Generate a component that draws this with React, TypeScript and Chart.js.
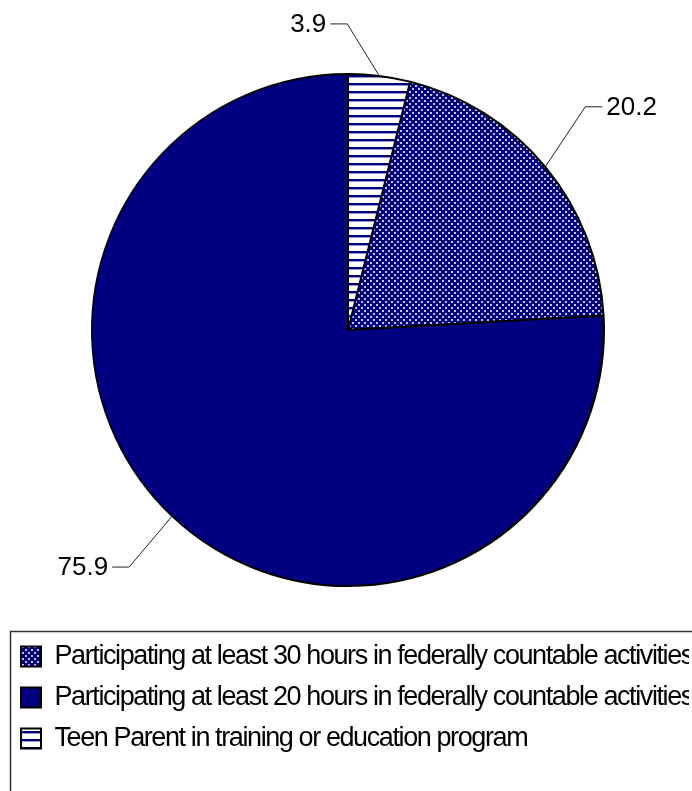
import React, { useEffect, useRef } from 'react';
import { Chart, registerables } from 'chart.js';

Chart.register(...registerables);

const categories = [
  'Participating at least 30 hours in federally countable activities',
  'Participating at least 20 hours in federally countable activities',
  'Teen Parent in training or education program',
];
const values = [20.2, 75.9, 3.9];
const valueLabels = ['20.2', '75.9', '3.9'];

const NAVY = '#000080';

// small tiles for the Excel-style fills
const makeDots = (ctx: CanvasRenderingContext2D) => {
  const c = document.createElement('canvas');
  c.width = 6;
  c.height = 6;
  const g = c.getContext('2d')!;
  g.fillStyle = NAVY;
  g.fillRect(0, 0, 6, 6);
  g.fillStyle = '#c4c4ee';
  g.fillRect(1, 1, 2, 2);
  g.fillRect(4, 4, 2, 2);
  return ctx.createPattern(c, 'repeat')!;
};

const makeStripes = (ctx: CanvasRenderingContext2D) => {
  const c = document.createElement('canvas');
  c.width = 8;
  c.height = 8;
  const g = c.getContext('2d')!;
  g.fillStyle = '#ffffff';
  g.fillRect(0, 0, 8, 8);
  g.fillStyle = NAVY;
  g.fillRect(0, 3, 8, 2);
  g.fillStyle = '#9090cc';
  g.fillRect(0, 5, 8, 1);
  return ctx.createPattern(c, 'repeat')!;
};

// leader line elbow offsets from the slice edge
const leaderOffsets = [
  [40, -60],
  [-43, 51],
  [-32, -52],
];

const leaderPlugin = {
  id: 'leaders',
  beforeDraw(chart: any) {
    // squeeze the legend text a bit, no condensed font available
    chart.ctx.letterSpacing = '-1.4px';
  },
  beforeDatasetsDraw(chart: any) {
    chart.ctx.letterSpacing = '0px';
  },
  afterDatasetsDraw(chart: any) {
    const { ctx } = chart;
    const meta = chart.getDatasetMeta(0);
    ctx.save();
    meta.data.forEach((arc: any, i: number) => {
      const { x, y, startAngle, endAngle, outerRadius } = arc.getProps(
        ['x', 'y', 'startAngle', 'endAngle', 'outerRadius'],
        true
      );
      const mid = (startAngle + endAngle) / 2;
      const ex = x + Math.cos(mid) * outerRadius;
      const ey = y + Math.sin(mid) * outerRadius;
      const [dx, dy] = leaderOffsets[i];
      const bx = ex + dx;
      const by = ey + dy;
      const dir = dx > 0 ? 1 : -1;
      const hx = bx + dir * 17;
      ctx.strokeStyle = '#222';
      ctx.lineWidth = 1;
      ctx.beginPath();
      ctx.moveTo(ex, ey);
      ctx.lineTo(bx, by);
      ctx.lineTo(hx, by);
      ctx.stroke();
      ctx.fillStyle = '#000';
      ctx.font = '26px "Liberation Sans", Arial, sans-serif';
      ctx.textBaseline = 'middle';
      ctx.textAlign = dir > 0 ? 'left' : 'right';
      ctx.fillText(valueLabels[i], hx + dir * 4, by + 1);
    });
    ctx.restore();
  },
  afterDraw(chart: any) {
    const lg = chart.legend;
    if (!lg) return;
    const { ctx } = chart;
    ctx.save();
    ctx.strokeStyle = '#333';
    ctx.lineWidth = 1.5;
    ctx.strokeRect(lg.left + 3.5, lg.top + 2.5, 800, 300);
    ctx.restore();
  },
};

export default function App() {
  const chartRef = useRef<HTMLCanvasElement>(null);
  const chartInstance = useRef<Chart | null>(null);

  useEffect(() => {
    if (!chartRef.current) return;
    const context = chartRef.current.getContext('2d')!;
    if (chartInstance.current) chartInstance.current.destroy();

    const fills = [makeDots(context), NAVY, makeStripes(context)];

    chartInstance.current = new Chart(context, {
      type: 'pie',
      data: {
        labels: categories,
        datasets: [
          {
            data: values,
            backgroundColor: fills as any,
            borderColor: '#000',
            borderWidth: 2,
            hoverOffset: 0,
          },
        ],
      },
      options: {
        responsive: false,
        animation: false,
        radius: 256,
        // last slice (teen parent) sits between 12 o'clock and the first slice
        rotation: values[2] * 3.6,
        layout: { padding: { top: 31, left: 7, right: 3, bottom: 29 } },
        plugins: {
          tooltip: { enabled: false },
          legend: {
            position: 'bottom',
            align: 'start',
            labels: {
              boxWidth: 20,
              boxHeight: 20,
              padding: 14,
              color: '#000',
              font: { family: '"Liberation Sans", Arial, sans-serif', size: 27 },
            },
          },
        },
      } as any,
      plugins: [leaderPlugin],
    });

    return () => {
      if (chartInstance.current) {
        chartInstance.current.destroy();
        chartInstance.current = null;
      }
    };
  }, []);

  return (
    <div style={{ position: 'fixed', left: 0, top: 0, width: 692, height: 791, background: '#fff' }}>
      <canvas ref={chartRef} width={692} height={791} />
    </div>
  );
}
